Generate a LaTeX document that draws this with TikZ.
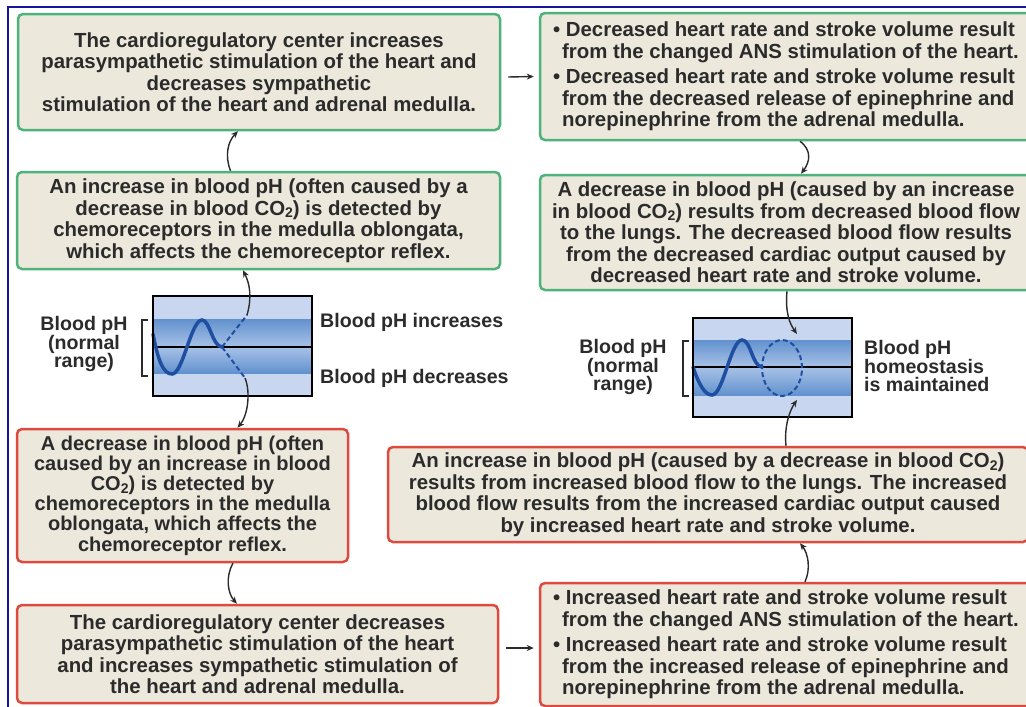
\documentclass[tikz,border=0pt]{standalone}
\usepackage{fontspec}
\setmainfont{Liberation Sans}
\usetikzlibrary{arrows.meta,shapes.geometric}
\definecolor{boxfill}{HTML}{ECE8DC}
\definecolor{gline}{HTML}{4DB37A}
\definecolor{rline}{HTML}{DD4B3E}
\definecolor{txt}{HTML}{2B2B2B}
\definecolor{lightband}{HTML}{C8D7EF}
\definecolor{darkband}{HTML}{6291CF}
\definecolor{midband}{HTML}{A8C2E6}
\definecolor{wave}{HTML}{1F4FA0}
\definecolor{frameblue}{HTML}{1414A0}
\newcommand{\subtwo}{\raisebox{-2.5pt}{\fontsize{14}{14}\selectfont 2}}
\begin{document}
\begin{tikzpicture}[x=1pt,y=-1pt,
  box/.style={draw, line width=2.5pt, rounded corners=5pt, fill=boxfill, inner sep=0pt, text=txt,
    font=\bfseries\fontsize{20.4}{21.5}\selectfont},
  gbox/.style={box, draw=gline},
  rbox/.style={box, draw=rline},
  arr/.style={-{Stealth[length=7pt,width=6pt]}, line width=1.4pt, draw=txt},
  lbl/.style={text=txt, font=\bfseries\fontsize{19.6}{18.8}\selectfont, inner sep=0pt},
  wavy/.style={draw=wave, line width=3.5pt, line cap=round},
  dsh/.style={draw=wave, line width=2pt, dash pattern=on 5pt off 3pt},
  brk/.style={draw=txt, line width=1.6pt},
  gframe/.style={draw=black, line width=2pt},
]
\useasboundingbox (0,0) rectangle (1026,707);
\fill[white] (0,0) rectangle (1026,707);
\clip (0,0) rectangle (1026,707);
\draw[frameblue, line width=2pt] (8,710) -- (8,7) -- (1030,7);

% boxes
\node[gbox, minimum width=482pt, minimum height=116pt, align=center] (A) at (259,72)
 {The cardioregulatory center increases\\parasympathetic stimulation of the heart and\\decreases sympathetic\\stimulation of the heart and adrenal medulla.};
\node[gbox, minimum width=483pt, minimum height=97pt, align=center] (B) at (258.5,220.5)
 {An increase in blood pH (often caused by a\\decrease in blood CO\subtwo) is detected by\\chemoreceptors in the medulla oblongata,\\which affects the chemoreceptor reflex.};
\node[gbox, minimum width=492pt, minimum height=127pt, align=left] (C) at (786,76.5)
 {\textbullet\ Decreased heart rate and stroke volume result\\\hspace*{9pt}from the changed ANS stimulation of the heart.\\[4pt]\textbullet\ Decreased heart rate and stroke volume result\\\hspace*{9pt}from the decreased release of epinephrine and\\\hspace*{9pt}norepinephrine from the adrenal medulla.};
\node[gbox, minimum width=492pt, minimum height=115pt, align=center] (D) at (786,232.5)
 {A decrease in blood pH (caused by an increase\\in blood CO\subtwo) results from decreased blood flow\\to the lungs. The decreased blood flow results\\from the decreased cardiac output caused by\\decreased heart rate and stroke volume.};
\node[rbox, minimum width=331pt, minimum height=133pt, align=center, font=\bfseries\fontsize{20}{20.2}\selectfont] (E) at (182.5,495.5)
 {A decrease in blood pH (often\\caused by an increase in blood\\CO\subtwo) is detected by\\chemoreceptors in the medulla\\oblongata, which affects the\\chemoreceptor reflex.};
\node[rbox, minimum width=481pt, minimum height=98pt, align=center] (F) at (257.5,654)
 {The cardioregulatory center decreases\\parasympathetic stimulation of the heart\\and increases sympathetic stimulation of\\the heart and adrenal medulla.};
\node[rbox, minimum width=640pt, minimum height=95pt, align=center] (G) at (708,494.5)
 {An increase in blood pH (caused by a decrease in blood CO\subtwo)\\results from increased blood flow to the lungs. The increased\\blood flow results from the increased cardiac output caused\\by increased heart rate and stroke volume.};
\node[rbox, minimum width=492pt, minimum height=123pt, align=left] (H) at (786,644.5)
 {\textbullet\ Increased heart rate and stroke volume result\\\hspace*{9pt}from the changed ANS stimulation of the heart.\\[4pt]\textbullet\ Increased heart rate and stroke volume result\\\hspace*{9pt}from the increased release of epinephrine and\\\hspace*{9pt}norepinephrine from the adrenal medulla.};

% graph 1
\fill[lightband] (153,296) rectangle (312,396);
\shade[top color=darkband, bottom color=midband] (153,319) rectangle (312,347);
\shade[top color=midband, bottom color=darkband] (153,347) rectangle (312,373);
\draw[black, line width=1.6pt] (153,347) -- (312,347);
\draw[wavy] (153,334) .. controls (158,360) and (163,374) .. (172,374)
  .. controls (183,374) and (191,320) .. (202,320)
  .. controls (210,320) and (212,346) .. (222,347);
\coordinate (g1s) at (222,347);
\coordinate (g1u) at (247,315);
\coordinate (g1d) at (245,378);
\draw[dsh] (g1s) -- (g1u);
\draw[dsh] (g1s) -- (g1d);
\draw[gframe] (153,296) rectangle (312,396);
\draw[brk] (148,320) -- (142,320) -- (142,376) -- (148,376);
\node[lbl, align=center] (l1) at (84,344) {Blood pH\\(normal\\range)};
\node[lbl, anchor=west] (l2) at (320,322) {Blood pH increases};
\node[lbl, anchor=west] (l3) at (320,378) {Blood pH decreases};

% graph 2
\fill[lightband] (693,318) rectangle (852,417);
\shade[top color=darkband, bottom color=midband] (693,340) rectangle (852,367);
\shade[top color=midband, bottom color=darkband] (693,367) rectangle (852,395);
\draw[black, line width=1.6pt] (693,367) -- (852,367);
\draw[wavy] (693,367) .. controls (699,385) and (705,395) .. (712,395)
  .. controls (723,395) and (731,340) .. (742,340)
  .. controls (751,340) and (752,366) .. (762,367);
\node[ellipse, dsh, minimum width=40pt, minimum height=56pt, inner sep=0pt] (circ) at (782,368) {};
\draw[gframe] (693,318) rectangle (852,417);
\draw[brk] (689,341) -- (683,341) -- (683,396) -- (689,396);
\node[lbl, align=center] (l4) at (623,367) {Blood pH\\(normal\\range)};
\node[lbl, align=left, anchor=west] (l5) at (864,366) {Blood pH\\homeostasis\\is maintained};

% connectors
\draw[arr] ([xshift=-28pt]B.north) .. controls +(-6,-15) and +(-10,10) .. ([xshift=-21pt]A.south);
\draw[arr] ([xshift=7pt,yshift=-5pt]A.east) -- ([xshift=-5pt]C.west);
\draw[arr] ([xshift=14pt]C.south) .. controls +(12,9) and +(9,-12) .. ([xshift=15pt]D.north);
\draw[arr] ([xshift=1pt]D.south) .. controls +(-2,22) and +(-7,-10) .. ([xshift=15pt,yshift=5pt]circ.north);
\draw[arr] ([xshift=78pt]G.north) .. controls +(-2,-20) and +(-7,10) .. ([xshift=15pt,yshift=-3pt]circ.south);
\draw[arr] ([xshift=19pt]H.north) .. controls +(6,-13) and +(8,10) .. ([xshift=92pt]G.south);
\draw[arr] ([xshift=50.5pt]E.south) .. controls +(-8,14) and +(-9,-10) .. ([xshift=-20.5pt]F.north);
\draw[arr] ([xshift=7pt,yshift=6pt]F.east) -- ([xshift=-5pt,yshift=-3.5pt]H.west);
\draw[arr] (g1u) .. controls +(5,-17) and +(7,14) .. ([xshift=-15.5pt]B.south);
\draw[arr] (g1d) .. controls +(6,15) and +(10,-12) .. ([xshift=55pt]E.north);
\end{tikzpicture}
\end{document}
